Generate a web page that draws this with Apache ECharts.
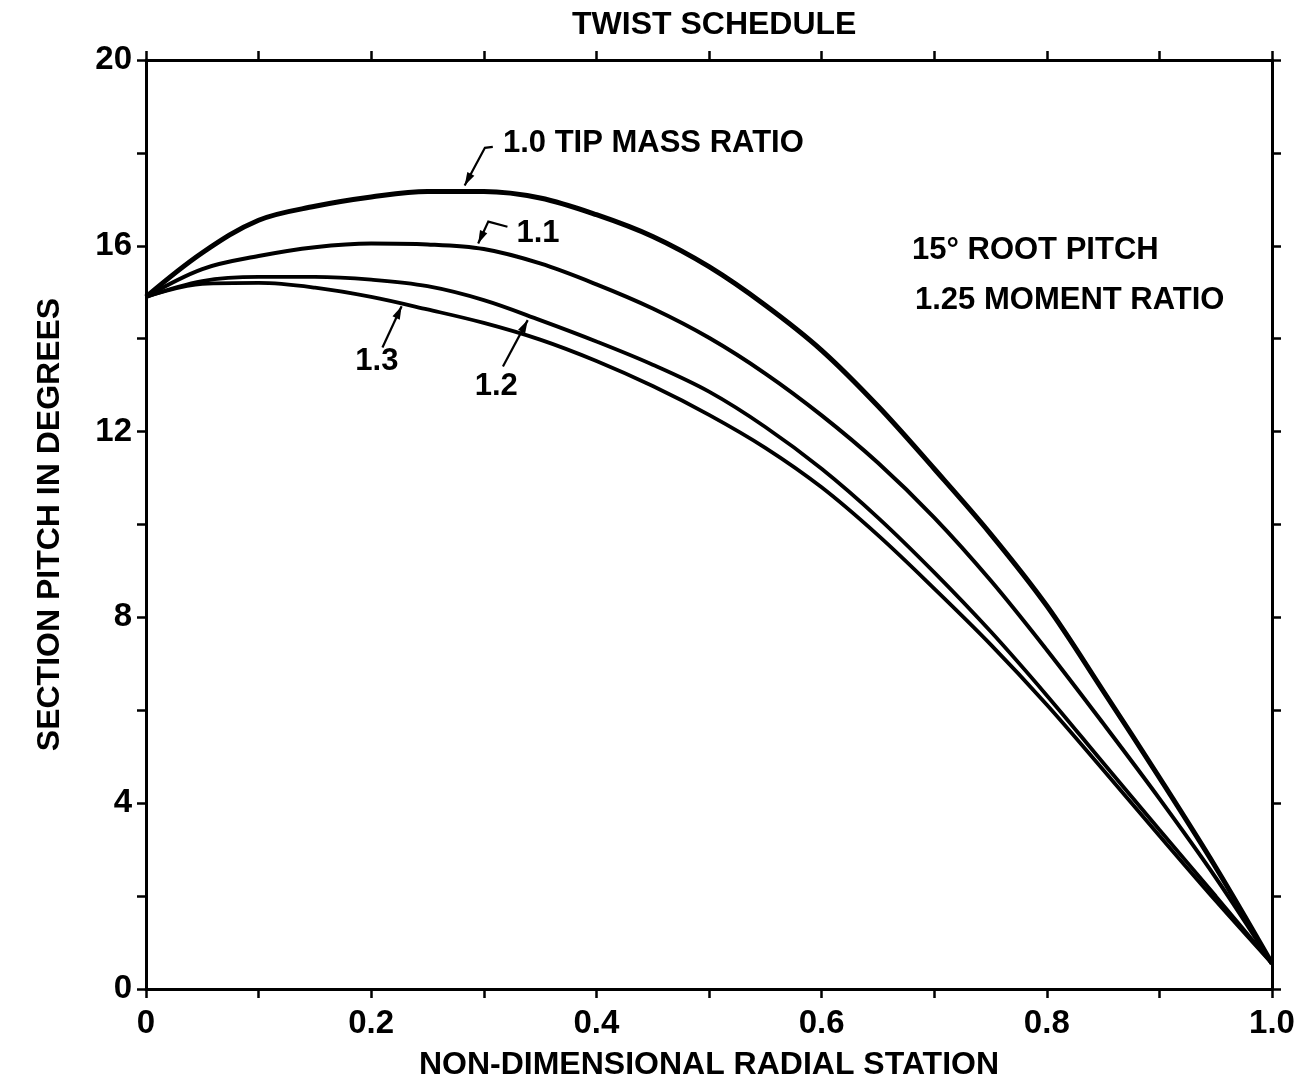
<!DOCTYPE html>
<html>
<head>
<meta charset="utf-8">
<script src="https://cdn.jsdelivr.net/npm/echarts@6/dist/echarts.min.js"></script>
<style>
  html, body { margin: 0; padding: 0; background: #fff; }
  #main { width: 1304px; height: 1086px; }
</style>
</head>
<body>
<div id="main"></div>
<script>
// radial stations
const stations = [0, 0.05, 0.10, 0.15, 0.20, 0.25, 0.30, 0.35, 0.40, 0.45, 0.50, 0.55, 0.60, 0.65, 0.70, 0.75, 0.80, 0.85, 0.90, 0.95, 1.0];
// section pitch (deg) per tip mass ratio
const pitch10 = [14.9, 15.85, 16.55, 16.85, 17.05, 17.17, 17.17, 17.03, 16.67, 16.2, 15.55, 14.72, 13.75, 12.55, 11.2, 9.8, 8.25, 6.42, 4.55, 2.62, 0.55];
const pitch11 = [14.9, 15.5, 15.78, 15.97, 16.05, 16.03, 15.93, 15.62, 15.17, 14.65, 14.02, 13.25, 12.35, 11.33, 10.15, 8.8, 7.3, 5.72, 4.1, 2.4, 0.55];
const pitch12 = [14.9, 15.24, 15.33, 15.33, 15.27, 15.13, 14.83, 14.4, 13.94, 13.44, 12.86, 12.1, 11.2, 10.15, 8.97, 7.7, 6.32, 4.87, 3.43, 2.0, 0.55];
const pitch13 = [14.9, 15.18, 15.2, 15.1, 14.9, 14.63, 14.34, 13.98, 13.52, 12.98, 12.36, 11.65, 10.8, 9.77, 8.62, 7.42, 6.12, 4.72, 3.3, 1.9, 0.55];

const FONT = '"Liberation Sans", Arial, Helvetica, sans-serif';
const INK = '#000';

function pairs(vals) {
  return stations.map((x, i) => [x, vals[i]]);
}

function edgeAxis(extra) {
  return Object.assign({
    type: 'value',
    axisLine: { show: true, onZero: false, lineStyle: { color: INK, width: 3 } },
    axisTick: { show: true, inside: false, length: 9, lineStyle: { color: INK, width: 2.5 } },
    minorTick: { show: true, splitNumber: 2, length: 9, lineStyle: { color: INK, width: 2.5 } },
    splitLine: { show: false },
    axisLabel: { show: false }
  }, extra);
}

const labelStyle = { color: INK, fontSize: 33, fontWeight: 'bold', fontFamily: FONT };
const nameStyle = { color: INK, fontSize: 32, fontWeight: 'bold', fontFamily: FONT };

const option = {
  animation: false,
  backgroundColor: '#fff',
  grid: { left: 146, right: 32, top: 60, bottom: 96 },
  xAxis: [
    edgeAxis({
      position: 'bottom', min: 0, max: 1, interval: 0.2,
      axisLabel: Object.assign({ show: true, margin: 18,
        formatter: v => v === 0 ? '0' : v.toFixed(1) }, labelStyle),
      name: 'NON-DIMENSIONAL RADIAL STATION',
      nameLocation: 'middle', nameGap: 60, nameTextStyle: nameStyle
    }),
    edgeAxis({ position: 'top', min: 0, max: 1, interval: 0.2 })
  ],
  yAxis: [
    edgeAxis({
      position: 'left', min: 0, max: 20, interval: 4,
      axisLabel: Object.assign({ show: true, margin: 14 }, labelStyle),
      name: 'SECTION PITCH IN DEGREES',
      nameLocation: 'middle', nameGap: 80, nameRotate: 90, nameTextStyle: nameStyle
    }),
    edgeAxis({ position: 'right', min: 0, max: 20, interval: 4 })
  ],
  series: [
    { name: '1.0', data: pairs(pitch10), width: 5 },
    { name: '1.1', data: pairs(pitch11), width: 4 },
    { name: '1.2', data: pairs(pitch12), width: 3.8 },
    { name: '1.3', data: pairs(pitch13), width: 3.8 }
  ].map(s => ({
    type: 'line', name: s.name, data: s.data, smooth: 0.35,
    showSymbol: false, symbol: 'none',
    lineStyle: { color: INK, width: s.width }
  }))
};

const chart = echarts.init(document.getElementById('main'));
chart.setOption(option);

// curve call-outs, positioned in data units
const callouts = [
  { text: '1.0 TIP MASS RATIO', at: [0.317, 18.2], align: 'left', path: [[0.308, 18.13], [0.301, 18.11], [0.283, 17.3]] },
  { text: '1.1', at: [0.329, 16.26], align: 'left', path: [[0.321, 16.41], [0.304, 16.52], [0.295, 16.05]] },
  { text: '1.3', at: [0.205, 13.5], align: 'center', path: [[0.21, 13.81], [0.227, 14.7]] },
  { text: '1.2', at: [0.311, 12.97], align: 'center', path: [[0.317, 13.4], [0.339, 14.4]] }
];

const toPx = p => chart.convertToPixel({ gridIndex: 0 }, p);
const graphics = [];

callouts.forEach(c => {
  const pos = toPx(c.at);
  graphics.push({
    type: 'text', x: pos[0], y: pos[1],
    style: { text: c.text, font: 'bold 31px ' + FONT, fill: INK, align: c.align, verticalAlign: 'middle' }
  });
  const pts = c.path.map(toPx);
  graphics.push({
    type: 'polyline', shape: { points: pts },
    style: { stroke: INK, lineWidth: 2.2, fill: null }
  });
  const tip = pts[pts.length - 1], prev = pts[pts.length - 2];
  const dx = tip[0] - prev[0], dy = tip[1] - prev[1];
  const len = Math.hypot(dx, dy), ux = dx / len, uy = dy / len;
  const bx = tip[0] - ux * 13, by = tip[1] - uy * 13;
  graphics.push({
    type: 'polygon',
    shape: { points: [tip, [bx - uy * 4, by + ux * 4], [bx + uy * 4, by - ux * 4]] },
    style: { fill: INK }
  });
});

graphics.push(
  { type: 'text', x: 572, y: 25, style: { text: 'TWIST SCHEDULE', font: 'bold 32px ' + FONT, fill: INK, align: 'left', verticalAlign: 'middle' } },
  { type: 'text', x: 912, y: 250, style: { text: '15° ROOT PITCH', font: 'bold 31px ' + FONT, fill: INK, align: 'left', verticalAlign: 'middle' } },
  { type: 'text', x: 915, y: 300, style: { text: '1.25 MOMENT RATIO', font: 'bold 31px ' + FONT, fill: INK, align: 'left', verticalAlign: 'middle' } }
);

chart.setOption({ graphic: graphics });
</script>
</body>
</html>
